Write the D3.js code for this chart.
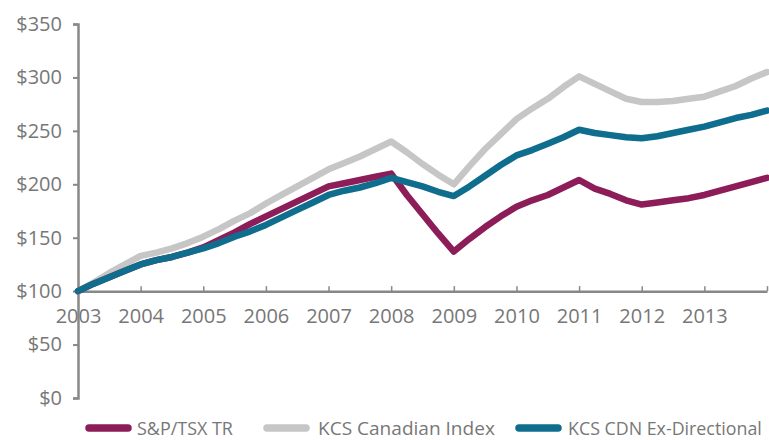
<html><head>
<meta charset="utf-8">
<script src="https://d3js.org/d3.v7.min.js"></script>
<style>
  body { margin: 0; background: #fff; }
  .tick-label { font-family: "Open Sans", sans-serif; font-size: 20px; fill: #777; }
  .legend-text { font-family: "Open Sans", sans-serif; font-size: 19px; fill: #777; }
</style>
</head>
<body>
<script>
// quarterly sample dates
var dates = [2003.00, 2003.25, 2003.50, 2003.75, 2004.00, 2004.25, 2004.50, 2004.75,
             2005.00, 2005.25, 2005.50, 2005.75, 2006.00, 2006.25, 2006.50, 2006.75,
             2007.00, 2007.25, 2007.50, 2007.75, 2008.00, 2008.25, 2008.50, 2008.75,
             2009.00, 2009.25, 2009.50, 2009.75, 2010.00, 2010.25, 2010.50, 2010.75,
             2011.00, 2011.25, 2011.50, 2011.75, 2012.00, 2012.25, 2012.50, 2012.75,
             2013.00, 2013.25, 2013.50, 2013.75, 2014.00];

var kcsIndex = [100, 108, 117, 125, 133, 136, 140, 145,
                151, 158, 166, 173, 182, 190, 198, 206,
                214, 220, 226, 233, 240, 230, 219, 209,
                200, 217, 233, 247, 261, 271, 280, 291,
                301, 294, 287, 280, 277, 277, 278, 280,
                282, 287, 292, 299, 305];

var spTsx = [100, 107, 113, 119, 125, 129, 132, 136,
             141, 148, 155, 163, 170, 177, 184, 191,
             198, 201, 204, 207, 210, 190, 172, 154,
             137, 149, 160, 170, 179, 185, 190, 197,
             204, 196, 191, 185, 181, 183, 185, 187,
             190, 194, 198, 202, 206];

var kcsExDir = [100, 107, 113, 119, 125, 129, 132, 136,
                140, 145, 151, 156, 162, 169, 176, 183,
                190, 194, 197, 201, 206, 202, 198, 193,
                189, 198, 208, 218, 227, 232, 238, 244,
                251, 248, 246, 244, 243, 245, 248, 251,
                254, 258, 262, 265, 269];

var yearTicks = [2003, 2004, 2005, 2006, 2007, 2008, 2009, 2010, 2011, 2012, 2013, 2014];
var yearLabels = ["2003", "2004", "2005", "2006", "2007", "2008", "2009", "2010", "2011", "2012", "2013", ""];
var valueTicks = [0, 50, 100, 150, 200, 250, 300, 350];

var seriesNames = ["S&P/TSX TR", "KCS Canadian Index", "KCS CDN Ex-Directional"];
var seriesColors = ["#8c1d59", "#c6c6c6", "#0f6d8e"];

var width = 769, height = 440;
var axisColor = "#888";

var svg = d3.select("body").append("svg")
    .attr("width", width)
    .attr("height", height);

var x = d3.scaleLinear().domain([2003, 2014]).range([78, 767]);
var y = d3.scaleLinear().domain([0, 350]).range([398, 24]);

// y axis
var yAxis = svg.append("g")
    .attr("transform", "translate(78,0)")
    .call(d3.axisLeft(y).tickValues(valueTicks).tickSize(5).tickPadding(11)
        .tickFormat(function(d) { return "$" + d; }));
yAxis.select(".domain").attr("stroke", axisColor).attr("stroke-width", 2.5);
yAxis.selectAll(".tick line").attr("stroke", axisColor).attr("stroke-width", 2);
yAxis.selectAll(".tick text").attr("class", "tick-label").attr("font-size", null).attr("font-family", null);

// x axis sits on the $100 line, ticks point up
var xAxis = svg.append("g")
    .attr("transform", "translate(0," + y(100) + ")")
    .call(d3.axisTop(x).tickValues(yearTicks).tickSize(5).tickSizeOuter(0)
        .tickFormat(function(d, i) { return yearLabels[i]; }));
xAxis.select(".domain").attr("stroke", axisColor).attr("stroke-width", 2.5);
xAxis.selectAll(".tick line").attr("stroke", axisColor).attr("stroke-width", 1.5);
xAxis.selectAll(".tick text")
    .attr("class", "tick-label")
    .attr("font-size", null).attr("font-family", null)
    .attr("y", 32);

var line = d3.line()
    .x(function(d, i) { return x(dates[i]); })
    .y(function(d) { return y(d); });

// draw order: grey, magenta, blue on top
[[kcsIndex, 1], [spTsx, 0], [kcsExDir, 2]].forEach(function(s) {
    svg.append("path")
        .datum(s[0])
        .attr("d", line)
        .attr("fill", "none")
        .attr("stroke", seriesColors[s[1]])
        .attr("stroke-width", 6.5)
        .attr("stroke-linejoin", "round")
        .attr("stroke-linecap", "round");
});

// legend: swatch start, text start, text width
// the original font is condensed, so squeeze the text horizontally
var legendX = [85, 263, 515];
var legendTextX = [137, 318, 568];
var legendTextW = [96, 177, 194];
var legend = svg.append("g");
seriesNames.forEach(function(name, i) {
    legend.append("line")
        .attr("x1", legendX[i] + 4).attr("x2", legendX[i] + 43)
        .attr("y1", 428).attr("y2", 428)
        .attr("stroke", seriesColors[i])
        .attr("stroke-width", 7.5)
        .attr("stroke-linecap", "round");
    var t = legend.append("text")
        .attr("class", "legend-text")
        .attr("x", 0)
        .attr("y", 0)
        .text(name);
    var natural = t.node().getComputedTextLength();
    var sx = legendTextW[i] / natural;
    t.attr("transform", "translate(" + legendTextX[i] + ",435) scale(" + sx + ",1)");
});
</script>
</body></html>
